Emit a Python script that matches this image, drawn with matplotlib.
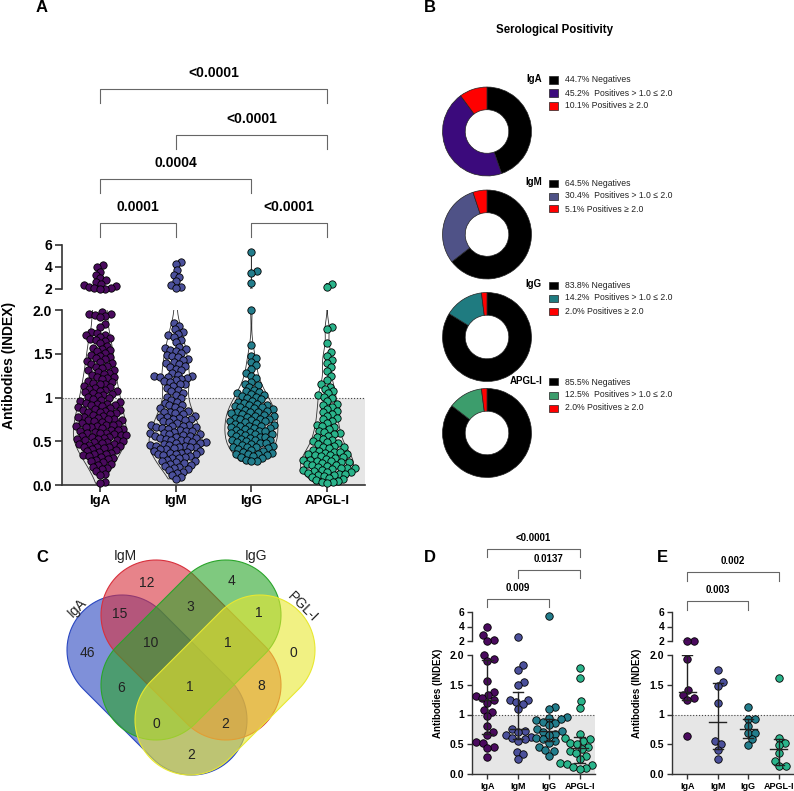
import numpy as np
import matplotlib
matplotlib.use('Agg')
import matplotlib.pyplot as plt
from matplotlib.patches import Polygon, Rectangle
from matplotlib import transforms
from matplotlib.colors import to_rgba

plt.rcParams['font.family'] = ['Liberation Sans', 'DejaVu Sans']

W, H = 794, 791

# ---------------- data ----------------
GROUPS = ['IgA', 'IgM', 'IgG', 'APGL-I']
POINT_COLORS = ['#4a0a5e', '#4b509b', '#237d8c', '#2ab48b']

# panel A, values x100
A_IGA = [418, 400, 357, 330, 300, 280, 265, 250, 235, 225, 215, 210, 205, 203, 201,
         198, 196, 195, 194, 193, 192, 184, 181, 175, 174, 172, 171, 169, 168, 167, 166, 165, 162,
         159, 157, 156, 154, 153, 151, 149, 148, 146, 145, 144, 142, 141, 139, 138, 136, 135, 134,
         132, 131, 129, 128, 127, 126, 124, 123, 122, 121, 119, 118, 117, 116, 115, 113, 112, 111,
         110, 109, 108, 107, 106, 105, 104, 103, 102, 101,
         99, 98, 97, 96, 95, 94, 93, 93, 92, 91, 90, 89, 88, 87, 86, 86, 85, 84, 83, 82, 81, 80,
         79, 78, 78, 77, 76, 75, 74, 74, 73, 72, 71, 70, 69, 69, 68, 67, 66, 66, 65, 64, 63, 63,
         62, 61, 60, 59, 59, 58, 57, 57, 56, 55, 55, 54, 53, 53, 52, 51, 50, 49, 49, 48, 47, 47,
         46, 45, 44, 44, 43, 42, 41, 40, 39, 38, 37, 36, 35, 34, 33, 32, 31, 30, 29, 27, 26, 24,
         23, 21, 20, 18, 16, 13, 11, 3, 2]
A_IGM = [450, 430, 370, 330, 310, 270, 240, 215, 210,
         185, 182, 178, 175, 173, 171, 169, 166, 163, 158, 157, 155, 154, 153, 151, 149, 148, 146,
         144, 143, 141, 139, 138, 136, 135, 133, 131, 128, 126, 125, 125, 124, 123, 122, 121, 120,
         119, 118, 116, 115, 113, 111, 109, 107, 105, 103, 101,
         99, 97, 95, 94, 92, 91, 89, 88, 86, 85, 84, 83, 82, 81, 79, 78, 78, 77, 76, 75, 74, 73,
         72, 71, 69, 69, 68, 67, 66, 66, 65, 64, 63, 62, 62, 61, 59, 59, 58, 58, 57, 56, 56, 55,
         54, 54, 53, 52, 51, 51, 49, 49, 48, 48, 47, 46, 46, 45, 45, 44, 43, 43, 42, 41, 41, 39,
         39, 38, 37, 37, 36, 35, 35, 34, 33, 32, 31, 31, 29, 28, 27, 26, 25, 24, 23, 22, 21, 19,
         18, 17, 15, 14, 12, 9, 7]
A_IGG = [540, 360, 345, 257,
         200, 160, 148, 145, 141, 137, 133, 128, 125, 122, 118, 116, 114, 112, 109, 107, 106, 105,
         104, 103, 102, 101,
         99, 98, 96, 95, 94, 93, 92, 91, 90, 89, 89, 88, 87, 86, 85, 84, 84, 83, 82, 81, 80, 79,
         79, 78, 77, 76, 76, 75, 74, 73, 73, 72, 71, 70, 69, 68, 68, 67, 66, 65, 65, 64, 63, 62,
         62, 61, 60, 59, 58, 58, 57, 56, 55, 55, 54, 53, 52, 52, 51, 50, 49, 48, 48, 47, 46, 45,
         44, 44, 43, 42, 41, 40, 39, 38, 37, 36, 35, 35, 34, 33, 32, 31, 29, 28, 27]
A_APGL = [250, 220,
          181, 178, 162, 152, 147, 143, 140, 135, 130, 125, 120, 115, 112, 110, 107, 105, 103, 101,
          99, 96, 93, 91, 89, 87, 85, 83, 81, 79, 77, 75, 73, 71, 69, 67, 66, 64, 62, 61, 59, 58,
          56, 55, 53, 52, 50, 49, 48, 47, 45, 44, 43, 42, 40, 39, 38, 38, 37, 36, 35, 34, 34, 33,
          32, 31, 30, 29, 29, 28, 27, 26, 26, 25, 24, 23, 23, 22, 21, 20, 19, 19, 18, 17, 17, 16,
          15, 15, 14, 13, 13, 12, 11, 10, 9, 8, 7, 6, 5, 4, 3, 2]
A_DATA = [A_IGA, A_IGM, A_IGG, A_APGL]
A_PVALS = [(0, 3, '<0.0001'), (1, 3, '<0.0001'), (0, 2, '0.0004'),
           (0, 1, '0.0001'), (2, 3, '<0.0001')]

# panel B, serological positivity (%)
B_NEG = [44.7, 64.5, 83.8, 85.5]
B_POS1 = [45.2, 30.4, 14.2, 12.5]
B_POS2 = [10.1, 5.1, 2.0, 2.0]
B_COLORS = ['#3b0a7c', '#4f5287', '#1f7b80', '#3c9d6c']

# panel C, Venn counts
VENN_SETS = ['IgA', 'IgM', 'IgG', 'PGL-I']
VENN_COUNTS = [12, 4, 15, 3, 1, 46, 10, 1, 0, 6, 1, 8, 0, 2, 2]

# panels D and E, values x100
D_DATA = [[400, 280, 208, 203, 200, 193, 190, 156, 138, 133, 131, 127, 124, 120, 107, 105,
           97, 80, 70, 65, 53, 52, 45, 43, 29],
          [260, 183, 175, 155, 150, 125, 124, 121, 118, 110, 75, 73, 70, 65, 63, 60, 58, 55,
           37, 33, 25],
          [545, 112, 109, 95, 94, 92, 90, 88, 85, 82, 75, 73, 70, 68, 65, 60, 58, 55, 52, 45,
           40, 38, 31],
          [178, 162, 122, 111, 68, 60, 58, 55, 52, 50, 45, 42, 38, 35, 30, 25, 18, 17, 15, 12,
           10, 8]]
D_PVALS = [(0, 3, '<0.0001'), (1, 3, '0.0137'), (0, 2, '0.009')]
E_DATA = [[205, 203, 193, 141, 133, 127, 124, 64],
          [174, 155, 148, 119, 56, 50, 40, 25],
          [112, 93, 93, 81, 69, 69, 58, 48],
          [161, 60, 52, 48, 35, 22, 13, 13]]
E_PVALS = [(0, 3, '0.002'), (0, 2, '0.003')]

fig = plt.figure(figsize=(W / 100, H / 100), dpi=100)


def px_axes(l, t, r, b):
    return fig.add_axes([l / W, 1 - b / H, (r - l) / W, (b - t) / H])


def fy(ypx):
    return 1 - ypx / H


def beeswarm(ypx, d):
    xs = np.zeros(len(ypx))
    px, py = np.empty(0), np.empty(0)
    for i in np.argsort(ypx, kind='stable'):
        y = ypx[i]
        near = np.abs(py - y) < d
        nx, ny = px[near], py[near]
        c = 0.0
        if len(nx):
            dx = np.sqrt(d ** 2 - (ny - y) ** 2)
            cand = np.concatenate([[0.0], nx + dx, nx - dx])
            cand = cand[np.argsort(np.abs(cand), kind='stable')]
            for c in cand:
                if np.all((nx - c) ** 2 + (ny - y) ** 2 >= d ** 2 - 1e-6):
                    break
        xs[i] = c
        px = np.append(px, c)
        py = np.append(py, y)
    return xs


def draw_points(ax, pos, vals, d, size, color):
    if len(vals) == 0:
        return
    disp = ax.transData.transform(np.column_stack([np.full(len(vals), pos), vals]))
    off = beeswarm(disp[:, 1], d)
    x = ax.transData.inverted().transform(np.column_stack([disp[:, 0] + off, disp[:, 1]]))[:, 0]
    ax.scatter(x, vals, s=size, c=color, edgecolors='black', linewidths=0.6,
               zorder=3, clip_on=False)


def broken_axes(l, r, t_up, b_up, t_lo, b_lo, fs_tick, fs_cat, lw, tlen):
    up = px_axes(l, t_up, r, b_up)
    lo = px_axes(l, t_lo, r, b_lo)
    for ax in (up, lo):
        ax.set_xlim(-0.5, 3.5)
        ax.patch.set_visible(False)
        ax.spines[['top', 'right']].set_visible(False)
        for s in ax.spines.values():
            s.set_linewidth(lw)
            s.set_color('#333333')
        ax.tick_params(length=tlen, width=lw, color='#333333', pad=2,
                       labelsize=fs_tick)
    up.set_ylim(2, 6)
    up.spines['bottom'].set_visible(False)
    up.set_xticks([])
    up.set_yticks([2, 4, 6])
    up.set_yticklabels(['2', '4', '6'], fontweight='bold', fontsize=fs_tick)
    lo.set_ylim(0, 2)
    lo.set_yticks([0, 0.5, 1, 1.5, 2])
    lo.set_yticklabels(['0.0', '0.5', '1', '1.5', '2.0'], fontweight='bold', fontsize=fs_tick)
    lo.set_xticks(range(4))
    lo.set_xticklabels(GROUPS, fontweight='bold', fontsize=fs_cat)
    lo.axhspan(0, 1, color='#e6e6e6', lw=0, zorder=0)
    lo.axhline(1, color='#444444', ls=':', lw=0.8, zorder=1)
    return up, lo


def brackets(ax, comps, levels, leg, dy, fs):
    tr = transforms.blended_transform_factory(ax.transData, fig.transFigure)
    for (i, j, label), ypx in zip(comps, levels):
        ax.plot([i, i, j, j], [fy(ypx + leg), fy(ypx), fy(ypx), fy(ypx + leg)],
                transform=tr, color='#666666', lw=0.8, clip_on=False)
        ax.text((i + j) / 2, fy(ypx - dy), label, transform=tr, ha='center', va='center',
                fontsize=fs, fontweight='bold', clip_on=False)


def split(vals):
    v = np.asarray(vals) / 100
    return v[v > 2], v[v <= 2]


# ---------------- panel A ----------------
upA, loA = broken_axes(62, 365, 245, 289, 310, 485, 10, 9.5, 1.2, 5)
data_a = [np.asarray(v) / 100 for v in A_DATA]
for ax in (upA, loA):
    vp = ax.violinplot(data_a, positions=range(4), widths=0.7, showextrema=False, bw_method=0.18)
    for body in vp['bodies']:
        body.set_alpha(1)
        body.set_facecolor('none')
        body.set_edgecolor('#333333')
        body.set_linewidth(0.6)
for k, vals in enumerate(A_DATA):
    hi, lo = split(vals)
    draw_points(upA, k, hi, 5.6, 28, POINT_COLORS[k])
    draw_points(loA, k, lo, 5.6, 28, POINT_COLORS[k])
brackets(upA, A_PVALS, [89, 135, 179, 223, 223], 14, 16, 10)
fig.text(9 / W, fy(365), 'Antibodies (INDEX)', rotation=90, ha='center', va='center',
         fontsize=10, fontweight='bold')

# ---------------- panel B ----------------
fig.text(555 / W, fy(30), 'Serological Positivity', ha='center', va='center',
         fontsize=8.3, fontweight='bold')
donut_cy = [131.5, 234.5, 337, 433]
legend_top = [80, 183, 285, 382]
for k in range(4):
    cy = donut_cy[k]
    ax = px_axes(487 - 45, cy - 45, 487 + 45, cy + 45)
    parts = [B_NEG[k], B_POS1[k], B_POS2[k]]
    cols = ['black', B_COLORS[k], '#ff0000']
    ax.pie(parts, colors=cols, startangle=90, counterclock=False, radius=1,
           wedgeprops=dict(width=0.51, edgecolor='#222222', linewidth=0.5))
    ax.set_xlim(-1.012, 1.012)
    ax.set_ylim(-1.012, 1.012)
    labels = [f'{B_NEG[k]:.1f}% Negatives',
              f'{B_POS1[k]:.1f}%  Positives > 1.0 \u2264 2.0',
              f'{B_POS2[k]:.1f}% Positives \u2265 2.0']
    for r, (lab, col) in enumerate(zip(labels, cols)):
        y = legend_top[k] + 13 * r
        fig.add_artist(Rectangle((549 / W, fy(y + 3.5)), 9 / W, 7 / H, transform=fig.transFigure,
                                 facecolor=col, edgecolor='#222222', lw=0.5))
        fig.text(565 / W, fy(y), lab, fontsize=6.2, va='center', color='#222222')
    fig.text(542 / W, fy(legend_top[k] - 1), GROUPS[k], ha='right', va='center',
             fontsize=7, fontweight='bold')

# ---------------- panel C ----------------
axc = px_axes(0, 520, 400, 791)
axc.set_xlim(0, 400)
axc.set_ylim(791, 520)
axc.axis('off')
capsules = [((122, 650), (192, 720)), ((156, 615), (226, 685)),
            ((226, 615), (156, 685)), ((260, 650), (190, 720))]
venn_colors = ['#2a47c0', '#d8303c', '#2aa52a', '#e8e830']
for (c1, c2), col in zip(capsules, venn_colors):
    c1, c2 = np.array(c1, float), np.array(c2, float)
    ang = np.arctan2(*(c2 - c1)[::-1])
    t1 = np.linspace(ang + np.pi / 2, ang + 3 * np.pi / 2, 50)
    t2 = np.linspace(ang - np.pi / 2, ang + np.pi / 2, 50)
    pts = np.vstack([c1 + 55 * np.column_stack([np.cos(t1), np.sin(t1)]),
                     c2 + 55 * np.column_stack([np.cos(t2), np.sin(t2)])])
    axc.add_patch(Polygon(pts, closed=True, facecolor=to_rgba(col, 0.6),
                          edgecolor=col, lw=0.8))
venn_xy = [(147, 583), (232, 581), (120, 614), (190, 607), (259, 613), (87, 653), (151, 643),
           (228, 643), (293, 653), (121, 688), (190, 687), (261, 686), (156, 724), (225, 724),
           (191, 755)]
for n, (x, y) in zip(VENN_COUNTS, venn_xy):
    axc.text(x, y, str(n), ha='center', va='center', fontsize=10, color='#222222')
for name, (x, y), rot in zip(VENN_SETS, [(77, 608), (125, 556), (256, 556), (303, 607)],
                             [45, 0, 0, -45]):
    axc.text(x, y, name, ha='center', va='center', fontsize=10, rotation=rot, color='#222222')

# ---------------- panels D and E ----------------
for data, comps, levels, leg, l, r, xlab in [
        (D_DATA, D_PVALS, [549, 570, 599], 8, 472, 595, 438),
        (E_DATA, E_PVALS, [572, 601], 9, 672, 794, 637)]:
    up, lo = broken_axes(l, r, 612, 641, 655, 774, 7.5, 6.5, 1.0, 3.5)
    for k, vals in enumerate(data):
        hi, low = split(vals)
        draw_points(up, k, hi, 6.8, 29, POINT_COLORS[k])
        draw_points(lo, k, low, 6.8, 29, POINT_COLORS[k])
        q1, med, q3 = np.percentile(np.asarray(vals) / 100, [25, 50, 75], method='weibull')
        for ax in (up, lo):
            ax.plot([k, k], [q1, q3], color='#222222', lw=1, zorder=4)
            ax.plot([k - 0.17, k + 0.17], [q1, q1], color='#222222', lw=1, zorder=4)
            ax.plot([k - 0.17, k + 0.17], [q3, q3], color='#222222', lw=1, zorder=4)
            ax.plot([k - 0.28, k + 0.28], [med, med], color='#222222', lw=1, zorder=4)
    brackets(up, comps, levels, leg, 11, 7)
    fig.text(xlab / W, fy(693), 'Antibodies (INDEX)', rotation=90, ha='center', va='center',
             fontsize=7, fontweight='bold')

for letter, x, y in [('A', 42, 8), ('B', 430, 7), ('C', 42, 557), ('D', 430, 557),
                     ('E', 662, 557)]:
    fig.text(x / W, fy(y), letter, ha='center', va='center', fontsize=12, fontweight='bold')

fig.savefig('out.png', dpi=100)
